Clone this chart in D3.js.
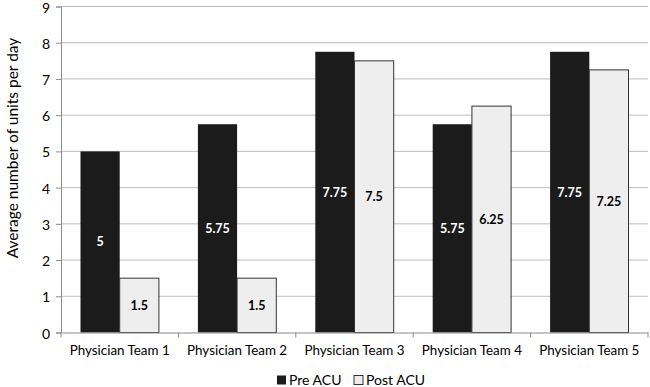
<!DOCTYPE html>
<html>
<head>
<meta charset="UTF-8">
<script src="https://d3js.org/d3.v7.min.js"></script>
<style>
  body { margin: 0; background: #fff; }
  text { font-family: Lato, "Open Sans", sans-serif; fill: #000; }
</style>
</head>
<body>
<svg width="650" height="387"></svg>
<script>
// data
var teams = ["Physician Team 1", "Physician Team 2", "Physician Team 3", "Physician Team 4", "Physician Team 5"];
var series = ["Pre ACU", "Post ACU"];
var preACU = [5, 5.75, 7.75, 5.75, 7.75];
var postACU = [1.5, 1.5, 7.5, 6.25, 7.25];
var yTicks = [0, 1, 2, 3, 4, 5, 6, 7, 8, 9];

var fills = { "Pre ACU": "#1b1b1b", "Post ACU": "#eeeeee" };
var labelColor = { "Pre ACU": "#fff", "Post ACU": "#000" };

var svg = d3.select("svg");
var plotLeft = 61, plotRight = 648, plotTop = 6.5, plotBottom = 332.5;

var x0 = d3.scaleBand().domain(teams).range([plotLeft, plotRight]);
var x1 = d3.scaleBand().domain(series).range([19.5, x0.bandwidth() - 19.5]);
var y = d3.scaleLinear().domain([0, 9]).range([plotBottom, plotTop]);

// gridlines
svg.append("g").selectAll("line").data(yTicks.slice(1)).enter().append("line")
   .attr("x1", plotLeft).attr("x2", plotRight)
   .attr("y1", function(d) { return y(d); }).attr("y2", function(d) { return y(d); })
   .attr("stroke", "#bdbdbd").attr("stroke-width", 1);

// bars
var rows = teams.map(function(t, i) {
    return { team: t, values: [{ s: "Pre ACU", v: preACU[i] }, { s: "Post ACU", v: postACU[i] }] };
});

var groups = svg.append("g").selectAll("g").data(rows).enter().append("g")
   .attr("transform", function(d) { return "translate(" + x0(d.team) + ",0)"; });

groups.selectAll("rect").data(function(d) { return d.values; }).enter().append("rect")
   .attr("x", function(d) { return x1(d.s); })
   .attr("width", x1.bandwidth())
   .attr("y", function(d) { return y(d.v); })
   .attr("height", function(d) { return y(0) - y(d.v); })
   .attr("fill", function(d) { return fills[d.s]; })
   .attr("stroke", function(d) { return d.s == "Pre ACU" ? "none" : "#333"; })
   .attr("stroke-width", 1);

groups.selectAll("text").data(function(d) { return d.values; }).enter().append("text")
   .attr("x", function(d) { return x1(d.s) + x1.bandwidth() / 2; })
   .attr("y", function(d) { return y(d.v / 2); })
   .attr("dy", "0.35em")
   .attr("text-anchor", "middle")
   .style("font-size", "12.5px").style("font-weight", "bold")
   .style("fill", function(d) { return labelColor[d.s]; })
   .text(function(d) { return d.v; });

// y axis
var yAxis = svg.append("g").attr("transform", "translate(" + plotLeft + ",0)")
   .call(d3.axisLeft(y).tickValues(yTicks).tickSize(5).tickPadding(6));
yAxis.select(".domain").attr("stroke", "#8c8c8c");
yAxis.selectAll(".tick line").attr("stroke", "#8c8c8c");
yAxis.selectAll("text").style("font-size", "14px").style("font-family", "Lato, sans-serif")
   .attr("dy", "0.4em");

// x axis
var xAxis = svg.append("g").attr("transform", "translate(0," + plotBottom + ")")
   .call(d3.axisBottom(x0).tickSize(0).tickPadding(13));
xAxis.select(".domain").attr("stroke", "#8c8c8c");
xAxis.selectAll("text").style("font-size", "13.4px").style("font-family", "Lato, sans-serif");
// category boundary ticks
svg.append("g").selectAll("line").data(teams).enter().append("line")
   .attr("x1", function(d) { return x0(d); }).attr("x2", function(d) { return x0(d); })
   .attr("y1", plotBottom).attr("y2", plotBottom + 5)
   .attr("stroke", "#8c8c8c");
svg.append("line").attr("x1", plotRight).attr("x2", plotRight)
   .attr("y1", plotBottom).attr("y2", plotBottom + 5)
   .attr("stroke", "#8c8c8c");

// y title
svg.append("text")
   .attr("transform", "translate(13,148) rotate(-90)")
   .attr("text-anchor", "middle").attr("dy", "0.35em")
   .style("font-size", "15.5px")
   .text("Average number of units per day");

// legend
var legend = svg.append("g").attr("transform", "translate(277,380)");
var lx = [0, 77];
series.forEach(function(s, i) {
    legend.append("rect").attr("x", lx[i]).attr("y", -4.5).attr("width", 9).attr("height", 9)
       .attr("fill", fills[s]).attr("stroke", i ? "#333" : "none");
    legend.append("text").attr("x", lx[i] + 12).attr("dy", "0.35em")
       .style("font-size", "14px").text(s);
});
</script>
</body>
</html>
